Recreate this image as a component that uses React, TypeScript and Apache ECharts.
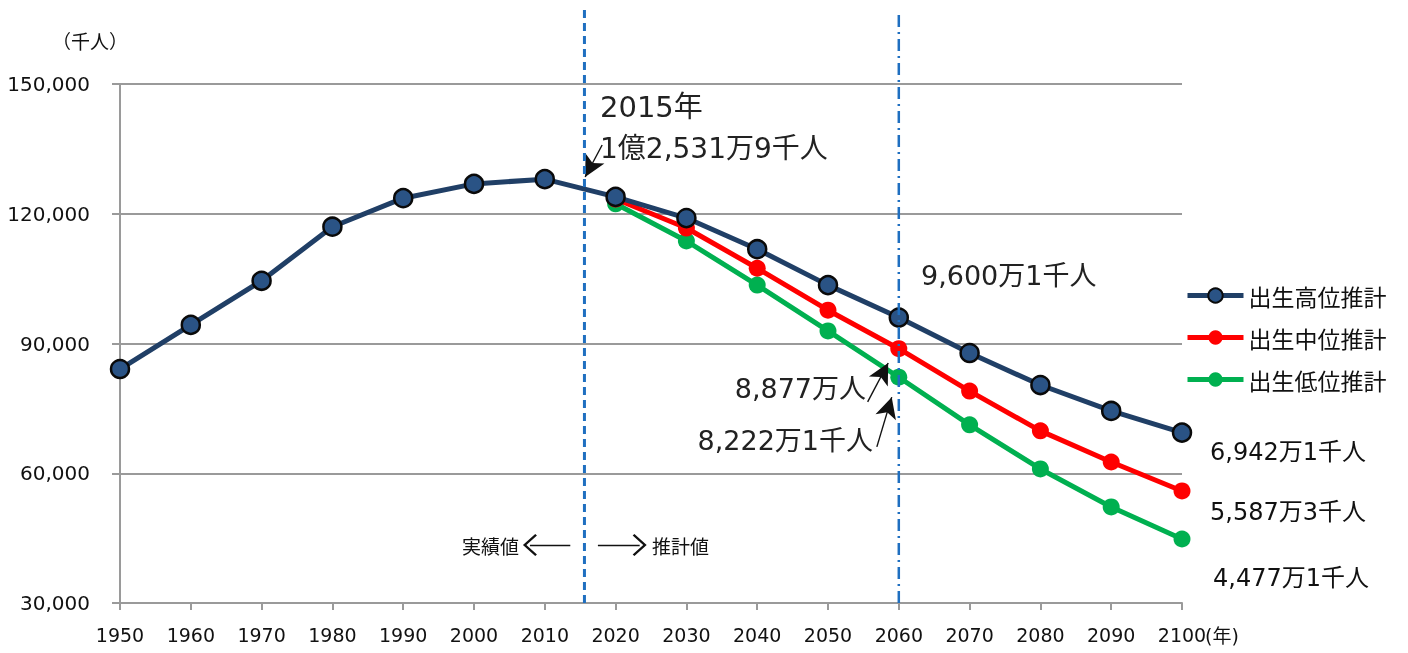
import React, { useEffect, useRef } from "react";
import * as echarts from "echarts";

const years = [1950, 1960, 1970, 1980, 1990, 2000, 2010, 2020, 2030, 2040, 2050, 2060, 2070, 2080, 2090, 2100];
const highValues = [84100, 94300, 104500, 117000, 123600, 126900, 128000, 123900, 119000, 111800, 103500, 96000, 87800, 80400, 74400, 69400];
const projYears = [2020, 2030, 2040, 2050, 2060, 2070, 2080, 2090, 2100];
const midValues = [123400, 116700, 107400, 97700, 88800, 79000, 69800, 62600, 55900];
const lowValues = [122300, 113700, 103500, 92900, 82200, 71200, 61000, 52200, 44800];
const seriesNames = ["出生高位推計", "出生中位推計", "出生低位推計"];
const yTicks = { min: 30000, max: 150000, interval: 30000 };
const xTicks = { min: 1950, max: 2100, interval: 10 };

const JP = '"Noto Sans CJK JP", sans-serif';
const NUM = '"DejaVu Sans", "Noto Sans CJK JP", sans-serif';

const chevron = "path://M0,0L10,10L8.6,11.4L0,2.8L-8.6,11.4L-10,10Z";

export default function App() {
  const ref = useRef<HTMLDivElement>(null);
  useEffect(() => {
    document.body.style.margin = "0";
    const chart = echarts.init(ref.current!, undefined, { renderer: "svg" });
    const option: any = {
      animation: false,
      grid: { left: 120, right: 226, top: 84, bottom: 50, containLabel: false },
      legend: {
        data: seriesNames,
        orient: "vertical",
        left: 1180,
        top: 279,
        itemWidth: 56,
        itemHeight: 18,
        itemGap: 19,
        lineStyle: { width: 5 },
        textStyle: { fontFamily: JP, fontSize: 23, color: "#111" },
        selectedMode: false,
      },
      xAxis: {
        type: "value",
        min: xTicks.min,
        max: xTicks.max,
        interval: xTicks.interval,
        axisLine: { show: true, lineStyle: { color: "#9a9a9a", width: 2 } },
        axisTick: { show: true, length: 7, lineStyle: { color: "#9a9a9a", width: 2 } },
        splitLine: { show: false },
        axisLabel: {
          fontFamily: NUM,
          fontSize: 19,
          color: "#111",
          margin: 22,
          formatter: (v: number) => String(v),
        },
      },
      yAxis: {
        type: "value",
        min: yTicks.min,
        max: yTicks.max,
        interval: yTicks.interval,
        axisLine: { show: true, lineStyle: { color: "#9a9a9a", width: 2 } },
        axisTick: { show: true, length: 8, lineStyle: { color: "#9a9a9a", width: 2 } },
        splitLine: { show: true, lineStyle: { color: "#9a9a9a", width: 2 } },
        axisLabel: {
          fontFamily: NUM,
          fontSize: 20,
          color: "#111",
          margin: 30,
          formatter: (v: number) => v.toLocaleString("en-US"),
        },
      },
      series: [
        {
          name: seriesNames[2],
          type: "line",
          data: projYears.map((y, i) => [y, lowValues[i]]),
          symbol: "circle",
          symbolSize: 17,
          lineStyle: { color: "#00B050", width: 5 },
          itemStyle: { color: "#00B050" },
          z: 2,
        },
        {
          name: seriesNames[1],
          type: "line",
          data: projYears.map((y, i) => [y, midValues[i]]),
          symbol: "circle",
          symbolSize: 17,
          lineStyle: { color: "#FF0000", width: 5 },
          itemStyle: { color: "#FF0000" },
          z: 3,
        },
        {
          name: seriesNames[0],
          type: "line",
          data: years.map((y, i) => [y, highValues[i]]),
          symbol: "circle",
          symbolSize: 18,
          lineStyle: { color: "#203F66", width: 5 },
          itemStyle: { color: "#2A5385", borderColor: "#0a0a0a", borderWidth: 2.5 },
          z: 4,
        },
        {
          name: "annot",
          type: "line",
          data: [],
          silent: true,
          markLine: {
            silent: true,
            animation: false,
            symbol: ["none", "arrow"],
            symbolSize: [16, 21],
            label: { show: false },
            lineStyle: { color: "#111", width: 1.4, type: "solid" },
            emphasis: { disabled: true },
            data: [
              [{ coord: [2018.1, 135900] }, { coord: [2015.7, 128500] }],
              [{ coord: [2055.6, 76500] }, { coord: [2058.5, 85500] }],
              [{ coord: [2056.9, 66100] }, { coord: [2059.0, 77600] }],
              [
                { coord: [2013.6, 43400], symbol: "none" },
                { coord: [2007.9, 43400], symbol: chevron, symbolSize: [22, 14] },
              ],
              [
                { coord: [2017.5, 43400], symbol: "none" },
                { coord: [2023.4, 43400], symbol: chevron, symbolSize: [22, 14] },
              ],
            ],
          },
        },
      ],
    };
    chart.setOption(option);

    const px = (x: number, y: number) =>
      chart.convertToPixel({ xAxisIndex: 0, yAxisIndex: 0 }, [x, y]) as number[];
    const [x15] = px(2015.6, 150000);
    const [x60, yBottom] = px(2060, 30000);

    const txt = (text: string, x: number, y: number, size: number, align = "left", font = JP, fill = "#111") => ({
      type: "text",
      x,
      y,
      z: 10,
      style: { text, fontSize: size, fontFamily: font, fill, align, verticalAlign: "middle" },
    });

    chart.setOption({
      graphic: [
        {
          type: "line",
          z: 6,
          shape: { x1: x15, y1: 10, x2: x15, y2: yBottom },
          style: { stroke: "#1F6FC0", lineWidth: 3, lineDash: [8, 5] },
        },
        {
          type: "line",
          z: 6,
          shape: { x1: x60, y1: 15, x2: x60, y2: yBottom },
          style: { stroke: "#1F6FC0", lineWidth: 2.5, lineDash: [12, 5, 2, 5] },
        },
        txt("（千人）", 52, 40, 19),
        txt("(年)", 1205, 636, 19, "left", NUM),
        txt("2015年", 600, 107, 29, "left", NUM, "#222"),
        txt("1億2,531万9千人", 600, 148, 28, "left", NUM, "#222"),
        txt("9,600万1千人", 921, 275, 27, "left", NUM, "#222"),
        txt("8,877万人", 866, 388, 27, "right", NUM, "#222"),
        txt("8,222万1千人", 873, 440, 27, "right", NUM, "#222"),
        txt("6,942万1千人", 1210, 452, 24, "left", NUM),
        txt("5,587万3千人", 1210, 512, 24, "left", NUM),
        txt("4,477万1千人", 1213, 578, 24, "left", NUM),
        txt("実績値", 462, 545, 19),
        txt("推計値", 652, 545, 19),
      ],
    });
    return () => chart.dispose();
  }, []);
  return <div ref={ref} style={{ position: "fixed", left: 0, top: 0, width: 1408, height: 653 }} />;
}
